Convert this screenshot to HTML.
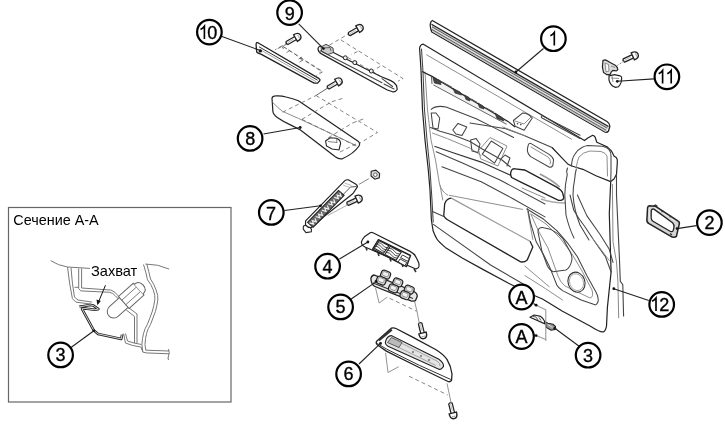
<!DOCTYPE html>
<html><head><meta charset="utf-8">
<style>
html,body{margin:0;padding:0;background:#fff;}
body{width:725px;height:427px;overflow:hidden;}
svg{display:block;filter:blur(0.3px);}
text{font-family:"Liberation Sans",sans-serif;}
.o{fill:#fff;stroke:#222;stroke-width:1.2;stroke-linejoin:round;stroke-linecap:round;}
.g{fill:none;stroke:#444;stroke-width:1.05;stroke-linejoin:round;stroke-linecap:round;}
.t{fill:none;stroke:#888;stroke-width:0.95;stroke-linejoin:round;stroke-linecap:round;}
.d{fill:none;stroke:#666;stroke-width:0.8;stroke-dasharray:4 3;}
.c{fill:#fff;stroke:#000;stroke-width:2.2;}
.l{fill:none;stroke:#222;stroke-width:1.1;}
.n{font-size:18px;fill:#000;text-anchor:middle;stroke:#000;stroke-width:0.35;}
.dot{fill:#111;}
</style></head>
<body>
<svg width="725" height="427" viewBox="0 0 725 427">


<!-- ===== Section box ===== -->
<rect x="8.5" y="207.5" width="222.5" height="194.5" fill="none" stroke="#666" stroke-width="1.2"/>
<text x="13.3" y="224.8" font-size="14.4" fill="#000">Сечение А-А</text>

<!-- ===== Part 10 strip ===== -->
<g id="p10">
<path d="M283.6,46.8 L322.3,72 L316.4,75.5 M287.1,43.9 L275.4,49.7 M282,46.5 L283.5,49 M300,58 L303,61.5 M302,57 L297,60" fill="none" stroke="#666" stroke-width="0.9" stroke-dasharray="4 2.5"/>
<path d="M256.7,42.7 L257.9,42.7 L318.7,78.4 Q320.5,79.5 319.9,80.5 L317.6,83.1 L314.1,83.1 L261.4,54.4 Q257.5,53 256.7,52 L256.1,45 Q256,43 256.7,42.7 Z" fill="#fff" stroke="#222" stroke-width="1.3" stroke-linejoin="round"/>
<path d="M259,46.8 L317.6,80.2" fill="none" stroke="#333" stroke-width="1"/>
<path d="M260.2,49.7 L316.4,81.9" fill="none" stroke="#999" stroke-width="0.9"/>
<circle cx="260.3" cy="50.9" r="1.7" fill="#111"/>
</g>

<!-- ===== Door panel 12 ===== -->
<g id="p12">
<path class="o" d="M423.4,44.2 L584.5,140.6 L587.8,138.1 L592.7,135.3 Q594.5,135.5 595.2,137.3 L596.8,142.2 L602.5,144.7 L607.5,147.1 L611.6,151.2 L614,156.1 L616.5,157.8 Q617.5,159 617.3,162.7 L616.5,174.2 L614,179.1 L610.7,181.6 L609.3,213.7 L611.1,271.9 L607.4,307.4 L606.5,326.2 Q605.5,331 603.7,331.8 Q600,332.5 590.5,326.2 L562.5,311.2 L542.5,299 L525.4,291.7 L508.6,283.3 L483.3,269.6 L462.2,258 L445.3,247.4 Q438,241 436.9,239 Q433,232 432.7,228.4 L431.4,220 L430,190 L428.3,170 L425,140 L422.5,110 L421,70 L419.6,48.4 Q420,44.6 423.4,44.2 Z" stroke-width="1.3"/>
<!-- door edge thickness right -->
<!-- left double edge -->
<path class="g" d="M421.5,49 L423,72 L424.5,110 L427,140 L430,170 L432,200 L433.2,222"/>
<path class="t" d="M425,72 L427.5,110 L431,140 L435.5,160 L439.6,184.6 Q442,192 447.8,195.2"/>
<!-- top face lower edge / switch channel -->
<path d="M432,76.4 L508,121.4 L506.6,124.3 L433.4,84.9 Z" fill="#f3f3f3" stroke="none"/>
<path d="M422.1,71.5 L432,76.4 L508,121.4 L515,127" fill="none" stroke="#222" stroke-width="1.2"/>
<path d="M433.4,84.9 L506.6,124.3" fill="none" stroke="#666" stroke-width="1"/>
<path d="M431.5,77 L432,84 M433,78 L440,80.5 L441,84.5 L434.5,83 Z M453,88.5 L460,92 L461.5,95 L455,93 Z M464.5,95 L469,97.5 L470,101 L466,99.5 Z M478,103 L483,106 L484,109 L479.5,107.5 Z M495,113 L502,117.5 L504,121 L497,118.5 Z" fill="#444" stroke="#333" stroke-width="0.8"/>
<path d="M442,82 L452,87.5 M471,99 L477,102.5 M486,108 L494,112.5" fill="none" stroke="#555" stroke-width="1.4"/>
<!-- light inner line on top face -->
<path class="t" d="M426.6,54.8 L571.6,139.3"/>
<!-- knob -->
<path class="g" d="M513.4,120.5 L522.5,113.1 Q528,113 532.3,118 L524.1,130.3 L515.1,126.2 Z"/>
<path class="t" d="M515,121 L524,124 L531,117"/>
<circle cx="517.5" cy="123.8" r="0.8" fill="#444"/><circle cx="520.8" cy="124.6" r="0.8" fill="#444"/>
<!-- slot -->
<path class="g" d="M542.1,115.6 L580,135.2 M542.1,118 L580,138.5 M542.1,115.6 Q540.5,117 542.1,118"/>
<!-- armrest top curve -->
<path class="g" d="M431.2,109.4 Q436,105 446,107 L476.2,118.7 L494.9,128.1 L513.6,137.5"/>
<path class="g" d="M506,128.7 L524.1,135.5 L552,147.5"/>
<path class="g" d="M470,123 L506,128.7"/>
<path class="t" d="M502.8,127 L525.7,136.1"/>
<!-- armrest lines -->
<path class="g" d="M430.6,127.5 L440,131.2 L453.1,135 L470,141.5 L481.8,148.7 L502,160 L510.4,167"/>
<path class="t" d="M432.5,133.1 L447.5,138.7 L470,148.1 L481.2,155.6"/>
<path d="M434.4,146.2 L453.1,152.8 L481.2,162.1 L500,170.6 L511,175.5" fill="none" stroke="#333" stroke-width="1.15"/>
<path class="g" d="M436.2,151.8 L462.5,163.1 L500,180 L545,204"/>
<path class="g" d="M441.9,166.8 L481.2,181.8 L513,198.7 L545,216.9"/>
<path class="t" d="M522,188 L545,198"/>
<!-- clips -->
<path class="g" d="M431.2,113.1 L436,113 L439.7,118 L438,129 L433,128 Z"/>
<path class="g" d="M452.8,130 L458,123.4 L466.8,127 L462,135.6 L456,134 Z"/>
<path class="g" d="M470.6,140 L476,138.4 L480,144 L478,152.4 L472,151 Z"/>
<!-- switch recess -->
<path class="g" d="M482.3,154.1 L491.3,141 L502.8,148.4 L494.6,163.1 Z" stroke-width="1.1"/>
<path class="t" d="M479,150 L490,137.5 L507,146 L498,166 L481,159 Z"/>
<path class="g" d="M500,160 L505,155 L510,158 L507,166"/>
<!-- handle recess -->
<path class="g" d="M528.2,145.1 Q529,143 530.7,143.4 L548.7,154.1 Q553,157 553.6,159.8 L552.8,165.6 Q551.5,167.5 549.5,167.2 L530.7,156.6 Q527,153 527.4,149.2 Z" stroke-width="1.1"/>
<path class="t" d="M531,147 L548,157 Q550.5,159 550.5,162 L550,164"/>
<!-- grip -->
<path d="M511.7,170 Q512.5,168.5 515,168.8 L524.6,170 L556.2,186.9 Q562,190.5 562.6,192.8 L563.8,197.5 Q563.5,200 561,200.4 L558.5,200.4 L523.4,183.4 L511.7,177.6 Q509.5,174 511.7,170 Z" fill="#fff" stroke="#222" stroke-width="1.35"/>
<path d="M539.8,174 Q552,180 559.7,187" fill="none" stroke="#999" stroke-width="1.6"/>
<path d="M541,199 Q552,203 566,203" fill="none" stroke="#aaa" stroke-width="1.4"/>
<!-- bolster -->
<path d="M552,147.5 Q563,159 568.1,164.3 Q571,166 575,167 L582.9,169.3 L596,175.8 L610.7,181.6" fill="none" stroke="#222" stroke-width="1.2"/>
<path class="g" d="M571.4,166 Q572,158 574.7,154.5 Q577,150 581.2,148 Q584,146 587.8,145.5 L602.5,146.3 Q607,147.5 609.1,149.6 Q611,152 611,156 L611,172 L610.7,181.6"/>
<path class="t" d="M576.3,167.6 Q577,161 579,157 Q583,152 590,151 L601,151.5 Q606,153 607,156 L607.5,176"/>
<path class="g" d="M567.5,168 Q566,172 567.3,174.2 Q565,185 564.8,195 L566,215 Q569,228 574,238"/>
<path class="g" d="M576.3,169 Q575,174 574.7,179.1 Q573,187 573,195 Q574,210 580,225 L589,240"/>
<!-- map pocket -->
<path d="M451.3,198.1 L530,241.3" fill="none" stroke="#999" stroke-width="1.2"/><path d="M530,241.3 L532.8,246.9 L527.2,260 Q524.5,262.5 520.6,261.9 L447.5,219.7 Q443.5,217 443.8,215 L444.7,203.8 Q446.5,198.3 451.3,198.1" fill="none" stroke="#222" stroke-width="1.3"/>
<path class="t" d="M442.8,200 L440,185 M449.4,195.3 L522.5,209.4 M527.2,208.4 L532.8,239.4"/>
<path class="g" d="M432.5,211.5 L443.8,216.5"/>
<path class="g" d="M433.4,224.4 L490.6,265 L525,285"/>
<path class="t" d="M525,266.2 L549.3,286.8 M525,275.6 L545.6,288.7 L562.5,300"/>
<!-- speaker area -->
<path class="g" d="M526.9,209 L543.7,219.3 L556.8,230.6 L568.1,243.7 L577.4,256.8 Q582,266 586.8,275.6 L596.2,292.5 Q599,298 598,301.8 Q596.5,305.5 594.3,304.6 L581.2,300 L562.5,290.6 Q558,287.5 556.8,285 L553.1,275.6 L549.3,266.2 L543.7,255 L536.2,241.8 L530.6,223.1 L527.8,209"/>
<path class="t" d="M531,214 L546,224 L560,238 L572,254 L582,271 L592,290 Q594,297 590,298 L565,286 Q560,282 558,276 L548,248 L539,232 Z"/>
<path class="g" d="M539,228.7 Q541,227 543.7,227.8 L551.2,229.6 Q558,233 562.5,238.1 L569.9,251.2 Q572.5,256 571.8,260.5 Q570,268 566,270 L553.1,271.8 Q549.5,270 547.5,266.2 L541.9,251.2 L538.1,232.5 Q537.8,230 539,228.7 Z"/>
<ellipse cx="576.5" cy="282.2" rx="8.4" ry="10.2" transform="rotate(-20 576.5 282.2)" fill="#fff" stroke="#333" stroke-width="1.1"/>
<ellipse cx="576.5" cy="282.2" rx="6.8" ry="8.6" transform="rotate(-20 576.5 282.2)" fill="none" stroke="#999" stroke-width="0.8"/>
<!-- bolster descending lines -->
<path class="g" d="M570,195 L573.7,210 Q578,218 584.9,226.8 L596.2,243.7 L605.5,256.8 L611.1,272"/>
<path class="g" d="M577.4,195 L586.8,215.6 L599.9,234.3 L609.3,249.3 L613,262.4"/>
<path class="t" d="M592.4,238.1 L609.3,260.5"/>
<!-- lower border -->

<!-- door side (thickness) lines -->
<path d="M616.5,174.2 L616.5,195 L619.5,260 L620.3,281.3 L622.8,284.6 L623.6,316.6" fill="none" stroke="#444" stroke-width="1.1"/><path d="M612.4,184 L613,241.8 L616.5,262 L617.9,281.3 L618.7,318.2" fill="none" stroke="#888" stroke-width="1"/>
</g>

<!-- ===== Weatherstrip 1 ===== -->
<g id="p1">
<path d="M432.3,20.5 L607,121.5 Q610,123.5 609.8,126.5 L608.5,131.0 Q606.5,133.3 604,131.5 L431.8,32.0 Q430,28.2 430.3,24.2 Q430.8,21.0 432.3,20.5 Z" fill="#fff" stroke="#222" stroke-width="1.3" stroke-linejoin="round"/>
<path d="M432,24.6 L608.5,126.6 L606,132.2 L432,31.6 Z" fill="#c4c4c4" stroke="none"/>
<path d="M431.5,24.3 L608.5,126.6" fill="none" stroke="#222" stroke-width="1.2"/>
<path d="M432.0,26.9 L607.0,128.1 M432.0,29.5 L606.0,130.1" fill="none" stroke="#555" stroke-width="0.9"/>
<path d="M432.0,28.2 L607.0,129.4" fill="none" stroke="#eee" stroke-width="0.8"/>
</g>

<!-- ===== Part 9 ===== -->
<g id="p9">
<path class="d" d="M340.8,39.9 L403.1,78.6 L397.9,81.2 M329.3,45.2 L348.7,33.8 M347.8,57.5 L380.3,76 M357.5,51.4 L351,55 M380.3,66.3 L374,70"/>
<path class="o" d="M318,48.5 Q318.5,46.3 320.5,46 L380.3,76.3 L390.8,80.6 Q395,82.5 396.6,85.6 L397.2,89.5 Q395.5,92.3 392.6,91.8 L387.3,90 L321,53.6 Q318,52 318,48.5 Z" stroke-width="1.2"/>
<path class="g" d="M320.2,50.8 L382,82.8 M382,78.6 L392.6,86.5 M384,84 L394,89"/>
<circle cx="345.3" cy="57.8" r="2" fill="#eee" stroke="#222" stroke-width="1"/><circle cx="354.8" cy="62.6" r="2" fill="#eee" stroke="#222" stroke-width="1"/><circle cx="371.3" cy="71" r="2" fill="#eee" stroke="#222" stroke-width="1"/>
<path d="M321,47 L326,44.3 L333,48 L333.5,52.5 L328,54.5 L321.5,51 Z" fill="#ccc" stroke="#333" stroke-width="0.9"/>
<path d="M324,48 L330,47.5 L331,51" fill="none" stroke="#444" stroke-width="0.8"/>
<circle class="dot" cx="323.4" cy="48.6" r="1.4"/>
</g>

<!-- ===== screws ===== -->
<g id="screws">
<path class="d" d="M288.6,42.1 L275.1,49.8 M282.2,46 L322.1,71.1 L319.6,72.4 M302.8,60.1 L297,63.5 M290,50.5 L284,54"/>
<g transform="translate(297.2,37.1) rotate(150) scale(1.12)"><path d="M2,-1.6 L10.5,-1.6 Q12,0 10.5,1.6 L2,1.6" fill="#fff" stroke="#222" stroke-width="1.1" stroke-linejoin="round"/><path d="M4,0 L10,0" stroke="#aaa" stroke-width="0.7"/><path d="M1.8,-3.4 Q-3.2,-3.6 -3.4,0 Q-3.2,3.6 1.8,3.4 Z" fill="#fff" stroke="#222" stroke-width="1.2"/><path d="M-1.2,-1.5 Q-1.8,0 -1.2,1.5" stroke="#999" stroke-width="0.8" fill="none"/></g>
<g transform="translate(359.5,28.2) rotate(150) scale(1.12)"><path d="M2,-1.6 L10.5,-1.6 Q12,0 10.5,1.6 L2,1.6" fill="#fff" stroke="#222" stroke-width="1.1" stroke-linejoin="round"/><path d="M4,0 L10,0" stroke="#aaa" stroke-width="0.7"/><path d="M1.8,-3.4 Q-3.2,-3.6 -3.4,0 Q-3.2,3.6 1.8,3.4 Z" fill="#fff" stroke="#222" stroke-width="1.2"/><path d="M-1.2,-1.5 Q-1.8,0 -1.2,1.5" stroke="#999" stroke-width="0.8" fill="none"/></g>
<g transform="translate(338.4,81.6) rotate(150) scale(1.12)"><path d="M2,-1.6 L10.5,-1.6 Q12,0 10.5,1.6 L2,1.6" fill="#fff" stroke="#222" stroke-width="1.1" stroke-linejoin="round"/><path d="M4,0 L10,0" stroke="#aaa" stroke-width="0.7"/><path d="M1.8,-3.4 Q-3.2,-3.6 -3.4,0 Q-3.2,3.6 1.8,3.4 Z" fill="#fff" stroke="#222" stroke-width="1.2"/><path d="M-1.2,-1.5 Q-1.8,0 -1.2,1.5" stroke="#999" stroke-width="0.8" fill="none"/></g>
<g transform="translate(634.6,55.5) rotate(155) scale(1.12)"><path d="M2,-1.6 L10.5,-1.6 Q12,0 10.5,1.6 L2,1.6" fill="#fff" stroke="#222" stroke-width="1.1" stroke-linejoin="round"/><path d="M4,0 L10,0" stroke="#aaa" stroke-width="0.7"/><path d="M1.8,-3.4 Q-3.2,-3.6 -3.4,0 Q-3.2,3.6 1.8,3.4 Z" fill="#fff" stroke="#222" stroke-width="1.2"/><path d="M-1.2,-1.5 Q-1.8,0 -1.2,1.5" stroke="#999" stroke-width="0.8" fill="none"/></g>
<g transform="translate(358.5,198.8) rotate(155) scale(1.12)"><path d="M2,-1.6 L10.5,-1.6 Q12,0 10.5,1.6 L2,1.6" fill="#fff" stroke="#222" stroke-width="1.1" stroke-linejoin="round"/><path d="M4,0 L10,0" stroke="#aaa" stroke-width="0.7"/><path d="M1.8,-3.4 Q-3.2,-3.6 -3.4,0 Q-3.2,3.6 1.8,3.4 Z" fill="#fff" stroke="#222" stroke-width="1.2"/><path d="M-1.2,-1.5 Q-1.8,0 -1.2,1.5" stroke="#999" stroke-width="0.8" fill="none"/></g>
<g transform="translate(423,335) rotate(-104) scale(1.12)"><path d="M2,-1.6 L10.5,-1.6 Q12,0 10.5,1.6 L2,1.6" fill="#fff" stroke="#222" stroke-width="1.1" stroke-linejoin="round"/><path d="M4,0 L10,0" stroke="#aaa" stroke-width="0.7"/><path d="M1.8,-3.4 Q-3.2,-3.6 -3.4,0 Q-3.2,3.6 1.8,3.4 Z" fill="#fff" stroke="#222" stroke-width="1.2"/><path d="M-1.2,-1.5 Q-1.8,0 -1.2,1.5" stroke="#999" stroke-width="0.8" fill="none"/></g>
<g transform="translate(453.3,415) rotate(-104) scale(1.12)"><path d="M2,-1.6 L10.5,-1.6 Q12,0 10.5,1.6 L2,1.6" fill="#fff" stroke="#222" stroke-width="1.1" stroke-linejoin="round"/><path d="M4,0 L10,0" stroke="#aaa" stroke-width="0.7"/><path d="M1.8,-3.4 Q-3.2,-3.6 -3.4,0 Q-3.2,3.6 1.8,3.4 Z" fill="#fff" stroke="#222" stroke-width="1.2"/><path d="M-1.2,-1.5 Q-1.8,0 -1.2,1.5" stroke="#999" stroke-width="0.8" fill="none"/></g>
</g>

<!-- ===== Part 8 ===== -->
<g id="p8">
<path d="M316,95.5 L328.3,87.6" fill="none" stroke="#555" stroke-width="0.9"/>
<path class="d" d="M316,95.5 L377.5,132.5 L360,143 M331.8,101.7 L344,98 M352.9,122.8 L366,118"/>
<path class="o" d="M272,98.2 Q272.5,96 275.5,95.9 Q281,95.5 286.1,97 Q293,98.5 298.4,100.8 L358.1,141.2 Q360.5,143 359,146 Q354,153.5 342.3,158.8 Q339,159.5 335.3,156.8 L300.1,129.8 L291.4,125.4 Q283,121.5 277.3,117.5 Q273,114 272.9,111.4 Z" stroke-width="1.3"/>
<path class="t" d="M272.9,102.6 Q277,107 282.6,111.4 L298.4,118.4 L323,129.8 L356,145.5"/>
<path class="d" d="M282.6,112.2 L316,95.5 M301.9,119.3 L331.8,101.7 M328.3,137.7 L352.9,122.8 M301.9,119.3 L356,146 M340,152 L358,143"/>
<path d="M325.6,141 L330,137.7 L336.5,138.3 Q340.6,140 340.6,143.5 L339,150 L332,149 L326.5,146 Z" fill="#fff" stroke="#222" stroke-width="1.1"/>
<path d="M328,141.5 L337,142.5 M336.5,138.5 L337,143" fill="none" stroke="#666" stroke-width="0.8"/>
<circle class="dot" cx="300.2" cy="127.5" r="1.4"/>
</g>

<!-- ===== Part 7 ===== -->
<g id="p7">
<path d="M368.8,178.7 L358.9,184.4" fill="none" stroke="#777" stroke-width="0.9"/>
<path d="M347.5,204.9 L327.8,215.5" fill="none" stroke="#999" stroke-width="0.8"/>
<path d="M371.2,171.2 L375.8,170.2 L379.6,173.4 L379.3,177.9 L374.8,179.2 L371,176 Z" fill="#ddd" stroke="#222" stroke-width="1.1"/>
<circle cx="375.3" cy="174.7" r="1.8" fill="#fff" stroke="#444" stroke-width="0.8"/>
<path d="M303.5,226 L308,224.5 L311.5,229.5 L311.3,231.8 L306,232.6 L303.2,229 Z" fill="#fff" stroke="#222" stroke-width="1.1"/>
<path class="o" d="M305.6,220.8 L344.9,180.7 Q346,179.5 348.2,179.8 L355.6,183.9 Q358,185.5 357.2,187.2 L353,193.5 L340.5,203.5 L324,216.5 L315.5,224.5 L311.3,227.4 Q308,228 305.5,225 Z" stroke-width="1.3"/>
<path d="M312,226.5 L350.5,187 L356.5,186.5" fill="none" stroke="#444" stroke-width="0.9"/>
<path d="M307.5,222.3 L338.5,190.4 L344.1,195.4 L313.1,227.3 Z" fill="#6a6a6a" stroke="#222" stroke-width="1.1"/>
<path d="M309.5,222.9 L313.6,224.1 L312.3,220.6 L316.3,221.8 L315.0,218.3 M315.7,216.5 L319.8,217.8 L318.5,214.2 L322.5,215.5 L321.2,211.9 M321.9,210.2 L326.0,211.4 L324.7,207.9 L328.7,209.1 L327.4,205.5 M328.1,203.8 L332.2,205.0 L330.9,201.5 L334.9,202.7 L333.6,199.2 M334.3,197.4 L338.4,198.6 L337.1,195.1 L341.1,196.3 L339.8,192.8 " fill="none" stroke="#f4f4f4" stroke-width="1.1"/>
<path d="M343,185 L350,187.5 M344.5,183 L351.5,185.5" fill="none" stroke="#999" stroke-width="0.7"/>
</g>

<!-- ===== Part 4 ===== -->
<g id="p4">
<path d="M366,247.5 L367,250.5 M378,253 L379,256 M390,258.5 L391,261.5 M402,264 L403,267 M414,269 L416,272" stroke="#333" stroke-width="1.6" fill="none"/>
<path class="o" d="M370.2,232.7 Q371.5,232 373,232.8 L410,251.4 Q415,254 416.5,258 L418.8,263.1 Q419.5,267 418.2,267.8 L415.9,269 L365,247 Q361.5,245.5 361.4,242 Q362,239.5 364.4,236.8 Z" stroke-width="1.3" stroke="#222"/>
<circle class="dot" cx="367.9" cy="242" r="1.4"/>
<path d="M378.4,239.7 L410.5,255.5 L406.5,266.6 L372.6,249.1 Z" fill="#fff" stroke="#222" stroke-width="1.4" stroke-linejoin="round"/>
<path d="M379.3,240.8 L388.9,245.8 L383.4,253.4 L374.3,248.2 Z M390.3,246.2 L401.2,252.2 L396.0,260.2 L384.8,254.5 Z" fill="#fff" stroke="#222" stroke-width="1.1"/>
<path d="M378.1,242.7 Q381.3,242.6 382.8,245.2 Q384.3,247.8 387.5,247.7 M376.8,244.5 Q380.0,244.4 381.5,247.1 Q382.9,249.7 386.1,249.6 M375.6,246.3 Q378.8,246.3 380.2,248.9 Q381.6,251.5 384.8,251.5 M388.9,248.3 Q392.7,248.3 394.4,251.2 Q396.2,254.2 399.9,254.2 M387.6,250.3 Q391.3,250.3 393.1,253.3 Q394.8,256.2 398.6,256.2 M386.2,252.4 Q389.9,252.4 391.7,255.3 Q393.5,258.3 397.3,258.2 " fill="none" stroke="#333" stroke-width="0.9"/>
<path d="M402.5,255.0 L409.5,258.8 L407.3,261.2 L400.6,257.6 Z M400.0,258.9 L406.8,262.6 L404.8,265.6 L398.2,262.0 Z" fill="#fff" stroke="#222" stroke-width="0.9"/>
</g>

<!-- ===== Part 5 ===== -->
<g id="p5">
<path d="M375.5,287.8 L379.1,303 L387.3,297.1 M414.2,299.5 L417.1,312 L419.4,323.8" fill="none" stroke="#888" stroke-width="0.9"/>
<path class="d" d="M389.6,298.3 L416.5,311.2"/>
<path d="M370.9,278.4 Q371.5,275.5 374,275 L414,291.5 Q417.5,293.5 417.2,296.5 L415.4,300.7 Q413,301.5 411,300.8 L374.4,286.3 Q371,283.5 370.9,278.4 Z" fill="#e8e8e8" stroke="#222" stroke-width="1.3"/>
<path d="M373,283 L413,298.5" fill="none" stroke="#333" stroke-width="1.1"/>
<rect x="-4.75" y="-3.75" width="9.5" height="7.5" rx="2.5" transform="translate(385.6,274.6) rotate(22)" fill="#d8d8d8" stroke="#222" stroke-width="1.2"/><rect x="-3.15" y="-2.45" width="5.9" height="4.1" rx="1.4" transform="translate(385.6,274.6) rotate(22)" fill="#f2f2f2" stroke="#777" stroke-width="0.7"/>
<rect x="-4.75" y="-3.75" width="9.5" height="7.5" rx="2.5" transform="translate(381.2,280.6) rotate(22)" fill="#d8d8d8" stroke="#222" stroke-width="1.2"/><rect x="-3.15" y="-2.45" width="5.9" height="4.1" rx="1.4" transform="translate(381.2,280.6) rotate(22)" fill="#f2f2f2" stroke="#777" stroke-width="0.7"/>
<rect x="-4.75" y="-3.75" width="9.5" height="7.5" rx="2.5" transform="translate(397.8,282.4) rotate(22)" fill="#d8d8d8" stroke="#222" stroke-width="1.2"/><rect x="-3.15" y="-2.45" width="5.9" height="4.1" rx="1.4" transform="translate(397.8,282.4) rotate(22)" fill="#f2f2f2" stroke="#777" stroke-width="0.7"/>
<rect x="-4.75" y="-3.75" width="9.5" height="7.5" rx="2.5" transform="translate(393.4,288.4) rotate(22)" fill="#d8d8d8" stroke="#222" stroke-width="1.2"/><rect x="-3.15" y="-2.45" width="5.9" height="4.1" rx="1.4" transform="translate(393.4,288.4) rotate(22)" fill="#f2f2f2" stroke="#777" stroke-width="0.7"/>
<rect x="-4.75" y="-3.75" width="9.5" height="7.5" rx="2.5" transform="translate(409.2,289.6) rotate(22)" fill="#d8d8d8" stroke="#222" stroke-width="1.2"/><rect x="-3.15" y="-2.45" width="5.9" height="4.1" rx="1.4" transform="translate(409.2,289.6) rotate(22)" fill="#f2f2f2" stroke="#777" stroke-width="0.7"/>
<rect x="-4.75" y="-3.75" width="9.5" height="7.5" rx="2.5" transform="translate(405,295.2) rotate(22)" fill="#d8d8d8" stroke="#222" stroke-width="1.2"/><rect x="-3.15" y="-2.45" width="5.9" height="4.1" rx="1.4" transform="translate(405,295.2) rotate(22)" fill="#f2f2f2" stroke="#777" stroke-width="0.7"/>
<circle class="dot" cx="376.1" cy="281.3" r="1.4"/>
</g>

<!-- ===== Part 6 ===== -->
<g id="p6">
<path d="M385.6,352.8 L388,372.5 L398.7,366.7 M447,383.3 L451.2,403.2" fill="none" stroke="#888" stroke-width="0.9"/>
<path class="d" d="M409,376.2 L447.7,395"/>
<path d="M391.3,328.2 Q393.5,327.3 396,328.5 L412.6,337.2 L435.6,349.5 Q443,354 447,359.3 Q451,366 452,374 L451.5,380.5 Q450,382.3 448,381.5 L419.2,367.5 L386.4,351.1 L377.5,345 Q375.5,343 376.6,341.3 Z" fill="#fff" stroke="#222" stroke-width="1.3" stroke-linejoin="round"/>
<path d="M377.2,343.5 L386.8,349.2 L419.5,365.4 L450.8,379.5" fill="none" stroke="#333" stroke-width="1"/>
<path d="M378.8,340.3 L391.8,329.6" fill="none" stroke="#333" stroke-width="2.2"/>
<path d="M385.6,341.3 Q387,336 391.3,335.6 L438.9,359.3 Q444,363 443.5,366.5 L442.1,368 Q441,369.8 438.9,369.2 L388,346.2 Q384.5,344 385.6,341.3 Z" fill="#e4e4e4" stroke="#222" stroke-width="1.1"/>
<path d="M392,338.5 L437,361 Q440.5,363.5 440,366 M389.5,343 L436,365.5" fill="none" stroke="#888" stroke-width="0.7"/>
<path d="M387.5,342.5 L391.5,337.5 L402,342.5 L399,347.5 Z" fill="#bbb" stroke="#444" stroke-width="0.8"/>
<circle cx="413" cy="352" r="0.9" fill="#666"/><circle cx="421" cy="356" r="0.9" fill="#666"/><circle cx="429" cy="360" r="0.9" fill="#666"/>
<circle class="dot" cx="380.5" cy="343.4" r="1.4"/>
</g>

<!-- ===== Part 2 ===== -->
<g id="p2">
<path d="M647.6,207.6 Q648,205.7 649.7,205.7 L656,206.6 L677.8,220.9 Q680,222 679.2,224.4 L676.4,236.4 Q675,237.5 672.2,237.1 L649,223.7 Q646.5,222 646.9,219.5 Z" fill="#d4d4d4" stroke="#222" stroke-width="1.5" stroke-linejoin="round"/>
<path d="M651.3,210.2 Q652,208.6 654,209.2 L672.5,222.8 Q674.3,224.5 674,227.5 L673.2,230.4 Q672.5,232.2 670.5,231.5 L653,221.3 Q651,219.8 651.1,217.5 Z" fill="#fff" stroke="#222" stroke-width="1.3"/>
<path d="M649,208.5 L650,221 M653.5,207 L675.5,221.5" fill="none" stroke="#f4f4f4" stroke-width="0.8"/>
<path d="M653,206.3 L655.5,205 L657.5,206.5 M661.5,211.8 L663.5,211 M669.5,216.8 L671.5,216.3 M670,233.5 L672,235" fill="none" stroke="#333" stroke-width="1.3"/>
<circle class="dot" cx="677" cy="228.6" r="1.3"/>
</g>

<!-- ===== Part 11 ===== -->
<g id="p11">
<path d="M624.4,61 L617.3,65.4" fill="none" stroke="#777" stroke-width="0.9" stroke-dasharray="2 1.5"/>
<path d="M609,75.8 L614.5,74.7 L620,75.8 Q621.8,76.5 621.7,78 L621.1,82.4 Q620,85.5 618.4,86.8 L615.6,87.4 Q612.5,86.5 611.2,84.6 Q609.5,82.5 609,80.2 Z" fill="#fff" stroke="#222" stroke-width="1.2"/>
<path d="M611,78 L619,78.5 M612,76 L613,82" fill="none" stroke="#777" stroke-width="0.8"/>
<path d="M603,60.4 L605.7,59.9 L610.1,62.6 L613.4,64.3 L615.6,65.4 L617.3,67.6 L617.8,69.8 L616.2,70.9 L612.9,70.3 L611.2,72 L610.1,74.7 L606.8,74.7 L603.5,72.5 L602.4,67 Z" fill="#ddd" stroke="#222" stroke-width="1.2"/>
<path d="M605,63 L608.5,64.5 L609,71 L606,72 Z M611,66 L615,67.5" fill="#f8f8f8" stroke="#666" stroke-width="0.7"/>
<circle class="dot" cx="617.3" cy="81.3" r="1.4"/>
</g>

<!-- ===== Part 3 clip ===== -->
<g id="p3">
<path d="M530,317.3 L534.2,315 L540.7,316.4 Q543.5,318.5 544.5,321.1 L545,323.9 Z" fill="#fff" stroke="#222" stroke-width="1.2" stroke-linejoin="round"/>
<path d="M533,316.5 L536,317 L538,320 M539,317.5 L541,320.5" fill="none" stroke="#444" stroke-width="0.9"/>
<path d="M545.5,322 L548,323.2 L553,324.3 L555.5,326.5 L555,329.5 L551,330.2 L546.4,327.5 Z" fill="#999" stroke="#222" stroke-width="1.1"/>
<path d="M548,324.5 L552.5,327.5" stroke="#eee" stroke-width="0.8"/>
<circle class="dot" cx="554.8" cy="328.3" r="1.4"/>
</g>

<!-- ===== Section drawing ===== -->
<g id="sect">
<text x="91" y="275.6" font-size="14.6" fill="#000">Захват</text>
<g fill="none" stroke="#777" stroke-width="1" stroke-linejoin="round">
<path d="M50.6,260.6 Q58,265.5 67.5,267 L90,268.4"/>
<path d="M145.3,264 Q158,264 169.2,269.1"/>
<path d="M67.5,267 L69.6,283.1 L72.4,298.6 L75.9,302.1 L91.4,304.2"/>
<path d="M71,267.7 L72.4,283.1 L74.5,297.2 L78,300 L92.1,302.1"/>
<path d="M74.5,287.3 L78.7,287.3"/>
<path d="M78.7,268.4 L78.7,288.7 L80.9,290.9 L109.7,292.3 Q113,293 115.3,295.8 L119.5,300"/>
<path d="M81.6,268.4 L81.6,288 L111.1,290.1 Q115,291.5 118.1,295.8 L121,298.5"/>
<path d="M126.2,309.9 L134.5,316.5 L134.5,343 M128.5,307.5 L137,314 L137,343"/>
<path d="M143.5,264.5 Q146,272 147.5,279.8 Q151,284 153.2,289.7 Q155.5,296 154.8,299.5 Q154,306 152.4,311 Q150,318 147.5,324.1 Q142.5,332 141.9,344.7 L142.8,352.1 L146.1,352.9 L169.2,353.8"/>
<path d="M146.8,264 Q149,272 150.5,279 Q154,284 156,289.7 Q158.5,296 157.8,300 Q157,306 155.4,311.5 Q153,318 150.5,324.5 Q145.5,332 145,344.5 L145.8,350.2 L169,351"/>
<path d="M168.5,349 Q170,353 168.5,356 Q167.5,358 168.5,360"/>
<path d="M122.1,334.7 L123.7,333.9 L125.4,343 L132.8,345.5 L141.1,347.1 L142.8,352.1 M125.5,333.5 L127.5,341 L134,343 L141.5,344.5"/>
</g>
<g transform="translate(126,300.5) rotate(-42)">
<rect x="-23" y="-6.5" width="46" height="13" rx="6.5" fill="#fff" stroke="#666" stroke-width="1"/>
<rect x="-3" y="-8" width="20" height="16" fill="#fff" stroke="#666" stroke-width="1"/>
<path d="M-3,-3 L17,-3 M-3,3 L17,3" stroke="#777" stroke-width="0.9" fill="none"/>
<path d="M17,-6.5 Q23,-6.5 23,0 Q23,6.5 17,6.5" fill="#fff" stroke="#666" stroke-width="1"/>
</g>
<path d="M79.4,306.3 L83,306.3 L90,304.9 L93.5,305.6 L98.4,309.1 L94.2,309.8 L85.8,308.5 L82,308.8 L93.9,330.6 L98.1,333.9 L121.2,338.9 L122.1,334.7" fill="none" stroke="#222" stroke-width="2.6" stroke-linejoin="round"/>
<path d="M79.4,306.3 L83,306.3 L90,304.9 L93.5,305.6 L98.4,309.1 L94.2,309.8 L85.8,308.5 L82,308.8 L93.9,330.6 L98.1,333.9 L121.2,338.9 L122.1,334.7" fill="none" stroke="#fff" stroke-width="0.8" stroke-linejoin="round"/>
<path d="M105.5,285.2 L98.5,302" stroke="#111" stroke-width="1"/>
<path d="M97.4,305.3 L96.5,299.5 L100.8,301 Z" fill="#111"/>
<circle class="dot" cx="93.9" cy="330.8" r="1.3"/>
</g>

<!-- ===== Callouts ===== -->
<g id="callouts">
<line class="l" x1="222" y1="36.5" x2="260.4" y2="50.5"/>
<circle class="c" cx="209.4" cy="32.1" r="12.3"/><path d="M200.5,29.4 Q202.9,28.2 204.4,26.2 L204.4,39.1" fill="none" stroke="#000" stroke-width="1.65" stroke-linejoin="miter"/><text class="n" x="212.2" y="39.2">0</text>
<line class="l" x1="298.7" y1="23.8" x2="323.4" y2="48.6"/>
<circle class="c" cx="289.6" cy="12.6" r="12.3"/><text class="n" x="289.8" y="19.6">9</text>
<line class="l" x1="543.5" y1="48.5" x2="515.9" y2="72"/>
<circle class="c" cx="553.4" cy="38.7" r="12.3"/><path d="M550.4,35.7 Q552.8,34.5 554.3,32.5 L554.3,45.4" fill="none" stroke="#000" stroke-width="1.65" stroke-linejoin="miter"/>
<line class="l" x1="654" y1="78.9" x2="617.3" y2="81.3"/>
<circle class="c" cx="666.9" cy="76.8" r="12.3"/><path d="M658.7,73.7 Q661.1,72.5 662.6,70.5 L662.6,83.4" fill="none" stroke="#000" stroke-width="1.65" stroke-linejoin="miter"/><path d="M667.3,73.7 Q669.7,72.5 671.2,70.5 L671.2,83.4" fill="none" stroke="#000" stroke-width="1.65" stroke-linejoin="miter"/>
<line class="l" x1="263.5" y1="134" x2="300.2" y2="127.5"/>
<circle class="c" cx="250.1" cy="138.4" r="12.3"/><text class="n" x="250.2" y="144.8">8</text>
<line class="l" x1="284.5" y1="210.5" x2="320.5" y2="205.8"/>
<circle class="c" cx="271.3" cy="212.4" r="12.3"/><text class="n" x="271.1" y="219.5">7</text>
<line class="l" x1="696.5" y1="225.6" x2="677" y2="228.6"/>
<circle class="c" cx="709.4" cy="222.6" r="12.3"/><text class="n" x="709.4" y="229.1">2</text>
<line class="l" x1="339.5" y1="259" x2="367.4" y2="242.2"/>
<circle class="c" cx="327.6" cy="266.2" r="12.3"/><text class="n" x="327.6" y="272.6">4</text>
<line class="l" x1="350.5" y1="299.5" x2="376.3" y2="281.6"/>
<circle class="c" cx="340.6" cy="306.9" r="12.3"/><text class="n" x="340.6" y="313.4">5</text>
<line class="l" x1="648.8" y1="300.5" x2="613.8" y2="288.7"/>
<circle class="c" cx="661.7" cy="304.4" r="12.3"/><path d="M652.1,301.3 Q654.5,300.1 656.0,298.1 L656.0,311.0" fill="none" stroke="#000" stroke-width="1.65" stroke-linejoin="miter"/><text class="n" x="664.2" y="311">2</text>
<path d="M533.5,303.5 L536.1,305.2" stroke="#222" stroke-width="1.1"/><path d="M536.1,305.2 L545.8,309.8 L545.8,341 M536.1,335.6 L545.8,339.4 M533.6,334.6 L536.1,335.6" fill="none" stroke="#999" stroke-width="1.1"/>
<circle class="dot" cx="536.1" cy="305.2" r="1.4"/><circle class="dot" cx="536.1" cy="335.6" r="1.4"/>
<circle class="c" cx="521.6" cy="297" r="12.3"/><text class="n" x="521.6" y="303.5">A</text>
<circle class="c" cx="521.5" cy="336.5" r="12.3"/><text class="n" x="521.5" y="343">A</text>
<line class="l" x1="579.5" y1="346.5" x2="554.8" y2="328.3"/>
<circle class="c" cx="588.1" cy="355.2" r="12.3"/><text class="n" x="588.1" y="361.7">3</text>
<line class="l" x1="71" y1="347.5" x2="93.9" y2="330.8"/>
<circle class="c" cx="60.6" cy="354.9" r="12.3"/><text class="n" x="60.6" y="361.4">3</text>
<line class="l" x1="359" y1="364" x2="380.5" y2="343.4"/>
<circle class="c" cx="348.6" cy="373.9" r="12.3"/><text class="n" x="348.6" y="380.4">6</text>
<circle class="dot" cx="515.9" cy="72" r="1.4"/>
<circle class="dot" cx="320.5" cy="205.8" r="1.4"/>
<circle class="dot" cx="613.8" cy="288.7" r="1.4"/>
</g>

</svg>
</body></html>
